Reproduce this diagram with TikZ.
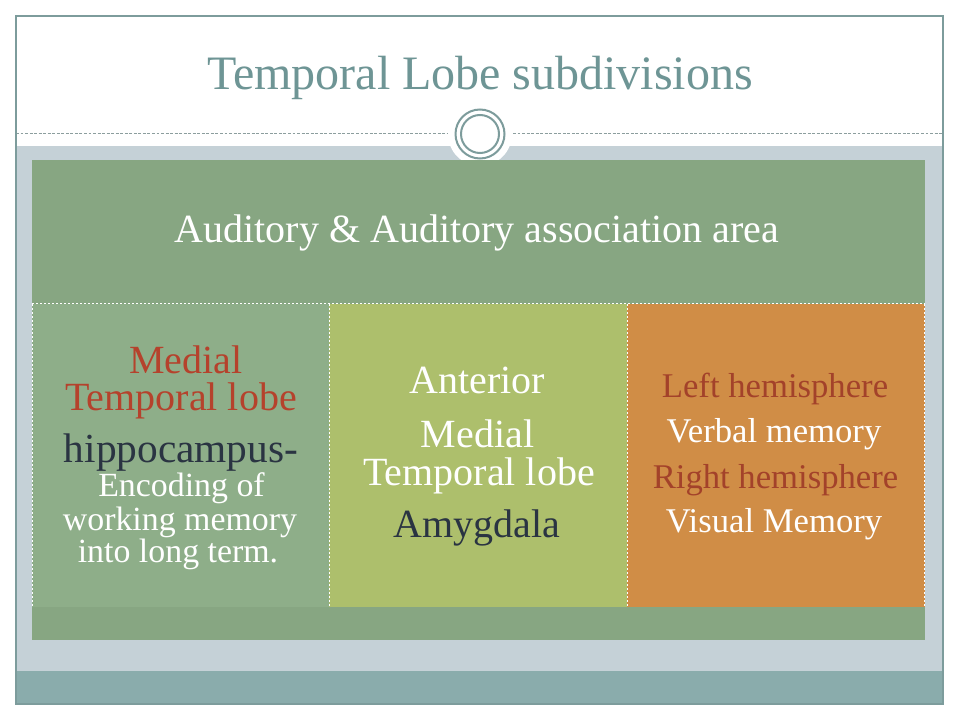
\documentclass[tikz,border=0pt]{standalone}
\usepackage{fontspec}
\setmainfont{Liberation Serif}
\definecolor{framecol}{HTML}{7D9C9C}
\definecolor{titlecol}{HTML}{6E9595}
\definecolor{bandgray}{HTML}{C5D1D7}
\definecolor{bandteal}{HTML}{8AACAC}
\definecolor{outergreen}{HTML}{87A682}
\definecolor{colone}{HTML}{8EAE89}
\definecolor{coltwo}{HTML}{ADBF6C}
\definecolor{colthree}{HTML}{D08D46}
\definecolor{redtext}{HTML}{B5422C}
\definecolor{browntext}{HTML}{A3422A}
\definecolor{navytext}{HTML}{2A3442}
\definecolor{dashgray}{HTML}{8C9E9E}
\begin{document}
\begin{tikzpicture}[x=0.75pt,y=-0.75pt,
  txt/.style={anchor=base, inner sep=0pt, outer sep=0pt},
  bigtxt/.style={txt, font=\fontsize{30}{36}\selectfont},
  midtxt/.style={txt, font=\fontsize{26}{31}\selectfont},
  smalltxt/.style={txt, font=\fontsize{25.4}{30}\selectfont},
  whitedash/.style={white, line width=0.75pt, dash pattern=on 1.5pt off 1.5pt},
  ringline/.style={draw=framecol, line width=1.5pt}]
\useasboundingbox (0,0) rectangle (960,720);
\fill[white] (0,0) rectangle (960,720);
% bands
\fill[bandgray] (16,146) rectangle (943,671);
\fill[bandteal] (16,671) rectangle (943,703);
% title separator
\draw[dashgray, line width=0.75pt, dash pattern=on 2.2pt off 1.2pt] (16,134) -- (447,134);
\draw[dashgray, line width=0.75pt, dash pattern=on 2.2pt off 1.2pt] (513,134) -- (943,134);
\fill[white] (480,134) circle (32);
\draw[ringline] (480,134) circle (24.5);
\draw[ringline] (480,134) circle (19);
% frame
\draw[framecol, line width=1pt] (16,16) rectangle (943,704);
% content boxes
\fill[outergreen] (32,160) rectangle (925,640);
\fill[colone] (32,304) rectangle (329,607);
\fill[coltwo] (329,304) rectangle (627,607);
\fill[colthree] (627,304) rectangle (925,607);
\draw[whitedash] (32,304) -- (925,304);
\draw[whitedash] (32,304) -- (32,607);
\draw[whitedash] (329,304) -- (329,607);
\draw[whitedash] (627,304) -- (627,607);
\draw[whitedash] (924.5,304) -- (924.5,607);
% texts
\node[txt, font=\fontsize{36}{43}\selectfont, text=titlecol] (title) at (480,90) {Temporal Lobe subdivisions};
\node[bigtxt, text=white] (aud) at (477,243) {Auditory \& Auditory association area};
% column 1
\node[bigtxt, text=redtext] (m1a) at (186,373) {Medial};
\node[bigtxt, text=redtext] (m1b) at (181,410) {Temporal lobe};
\node[txt, font=\fontsize{31}{37}\selectfont, text=navytext] (hip) at (181,462) {hippocampus-};
\node[smalltxt, text=white] (enc1) at (181.5,496) {Encoding of};
\node[smalltxt, text=white] (enc2) at (180,530) {working memory};
\node[smalltxt, text=white] (enc3) at (178,562) {into long term.};
% column 2
\node[bigtxt, text=white] (ant) at (477.5,393) {Anterior};
\node[bigtxt, text=white] (m2a) at (477.5,447) {Medial};
\node[bigtxt, text=white] (m2b) at (479,485) {Temporal lobe};
\node[bigtxt, text=navytext] (amy) at (477,537) {Amygdala};
% column 3
\node[midtxt, text=browntext] (lh) at (775,397) {Left hemisphere};
\node[midtxt, text=white] (vm) at (774,442) {Verbal memory};
\node[midtxt, text=browntext] (rh) at (775.5,488) {Right hemisphere};
\node[midtxt, text=white] (vis) at (774,532) {Visual Memory};
\end{tikzpicture}
\end{document}
